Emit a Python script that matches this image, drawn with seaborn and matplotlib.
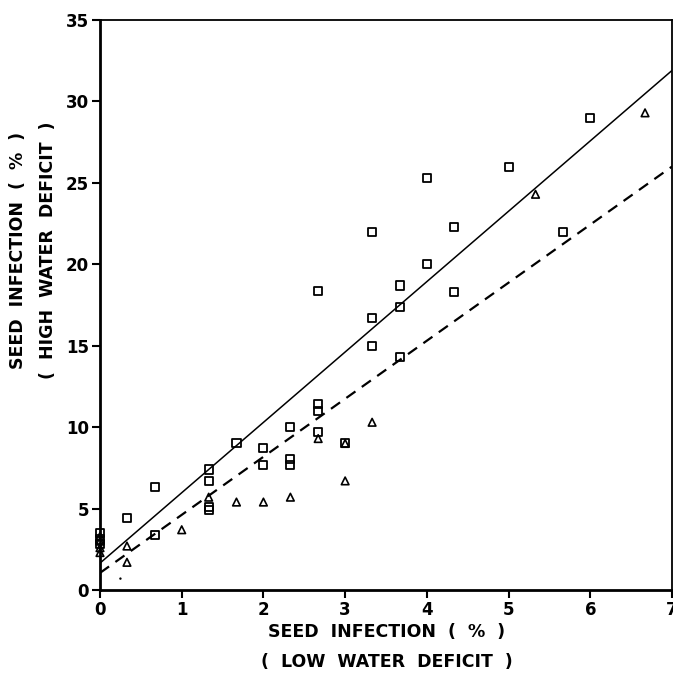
import matplotlib
matplotlib.use("Agg")
import matplotlib.pyplot as plt
import seaborn as sns
import pandas as pd

# ---- data ----
square_x = [0, 0, 0, 0.33, 0.67, 0.67, 1.33, 1.33, 1.33, 1.33, 1.67, 2.0, 2.0,
            2.33, 2.33, 2.33, 2.67, 2.67, 2.67, 2.67, 3.0, 3.33, 3.33, 3.33,
            3.67, 3.67, 3.67, 4.0, 4.0, 4.33, 4.33, 5.0, 5.67, 6.0]
square_y = [3.5, 3.1, 2.8, 4.4, 6.3, 3.4, 7.4, 6.7, 5.1, 4.9, 9.0, 8.7, 7.7,
            10.0, 8.05, 7.7, 18.35, 11.4, 11.0, 9.7, 9.05, 22.0, 16.7, 15.0,
            18.7, 17.4, 14.3, 25.3, 20.0, 22.3, 18.3, 26.0, 22.0, 29.0]
tri_x = [0, 0, 0, 0, 0.33, 0.33, 1.0, 1.33, 1.67, 2.0, 2.33, 2.67, 3.0, 3.0,
         3.33, 5.33, 6.67]
tri_y = [3.3, 3.0, 2.6, 2.3, 2.7, 1.7, 3.7, 5.7, 5.4, 5.4, 5.7, 9.3, 9.0, 6.7,
         10.3, 24.3, 29.3]
dot_x = [0.25]
dot_y = [0.7]

line_x = [0, 7]
solid_y = [1.65, 31.9]
dashed_y = [1.05, 26.0]

x_ticks = [0, 1, 2, 3, 4, 5, 6, 7]
y_ticks = [0, 5, 10, 15, 20, 25, 30, 35]

xlabel = "SEED  INFECTION  (  %  )\n(  LOW  WATER  DEFICIT  )"
ylabel = "SEED  INFECTION  (  %  )\n(  HIGH  WATER  DEFICIT  )"

# ---- plotting ----
sns.set_style("white")
plt.rcParams["font.family"] = ["DejaVu Sans"]
plt.rcParams["font.weight"] = "bold"
plt.rcParams["text.color"] = "black"
plt.rcParams["xtick.color"] = "black"
plt.rcParams["ytick.color"] = "black"
plt.rcParams["xtick.labelcolor"] = "black"
plt.rcParams["ytick.labelcolor"] = "black"

fig = plt.figure(figsize=(6.73, 6.89), dpi=100)
ax = fig.add_axes([100 / 673, (689 - 590) / 689, 572 / 673, 570 / 689])

sq = pd.DataFrame({"x": square_x, "y": square_y})
tr = pd.DataFrame({"x": tri_x, "y": tri_y})

sns.lineplot(x=line_x, y=solid_y, ax=ax, color="black", linewidth=1.1)
sns.lineplot(x=line_x, y=dashed_y, ax=ax, color="black", linewidth=1.6,
             linestyle=(0, (5, 3.5)))

sns.scatterplot(data=sq, x="x", y="y", ax=ax, marker="s", s=34,
                facecolor="none", edgecolor="black", linewidth=1.3,
                clip_on=False, zorder=3)
sns.scatterplot(data=tr, x="x", y="y", ax=ax, marker="^", s=30,
                facecolor="none", edgecolor="black", linewidth=1.2,
                clip_on=False, zorder=3)
sns.scatterplot(x=dot_x, y=dot_y, ax=ax, marker="o", s=3, color="black",
                edgecolor="none")

ax.set_xlim(0, 7)
ax.set_ylim(0, 35)
ax.set_xticks(x_ticks)
ax.set_yticks(y_ticks)
ax.set_xticklabels([str(t) for t in x_ticks], fontsize=12, fontweight="bold",
                   color="black")
ax.set_yticklabels([str(t) for t in y_ticks], fontsize=12, fontweight="bold",
                   color="black")
ax.tick_params(axis="both", direction="out", length=6, width=1.5,
               color="black", labelcolor="black", pad=2, left=True, bottom=True)

for side in ["left", "bottom"]:
    ax.spines[side].set_linewidth(2.0)
    ax.spines[side].set_color("black")
for side in ["top", "right"]:
    ax.spines[side].set_linewidth(1.3)
    ax.spines[side].set_color("black")

ax.set_xlabel("")
ax.set_ylabel("")
fig.text(387 / 673, 1 - 647 / 689, xlabel, ha="center", va="center",
         fontsize=12.5, fontweight="bold", linespacing=1.85, color="black")
fig.text(33 / 673, 1 - 250 / 689, ylabel, ha="center", va="center",
         rotation=90, fontsize=12.5, fontweight="bold", linespacing=1.85,
         color="black")

fig.savefig("out.png", dpi=100)
